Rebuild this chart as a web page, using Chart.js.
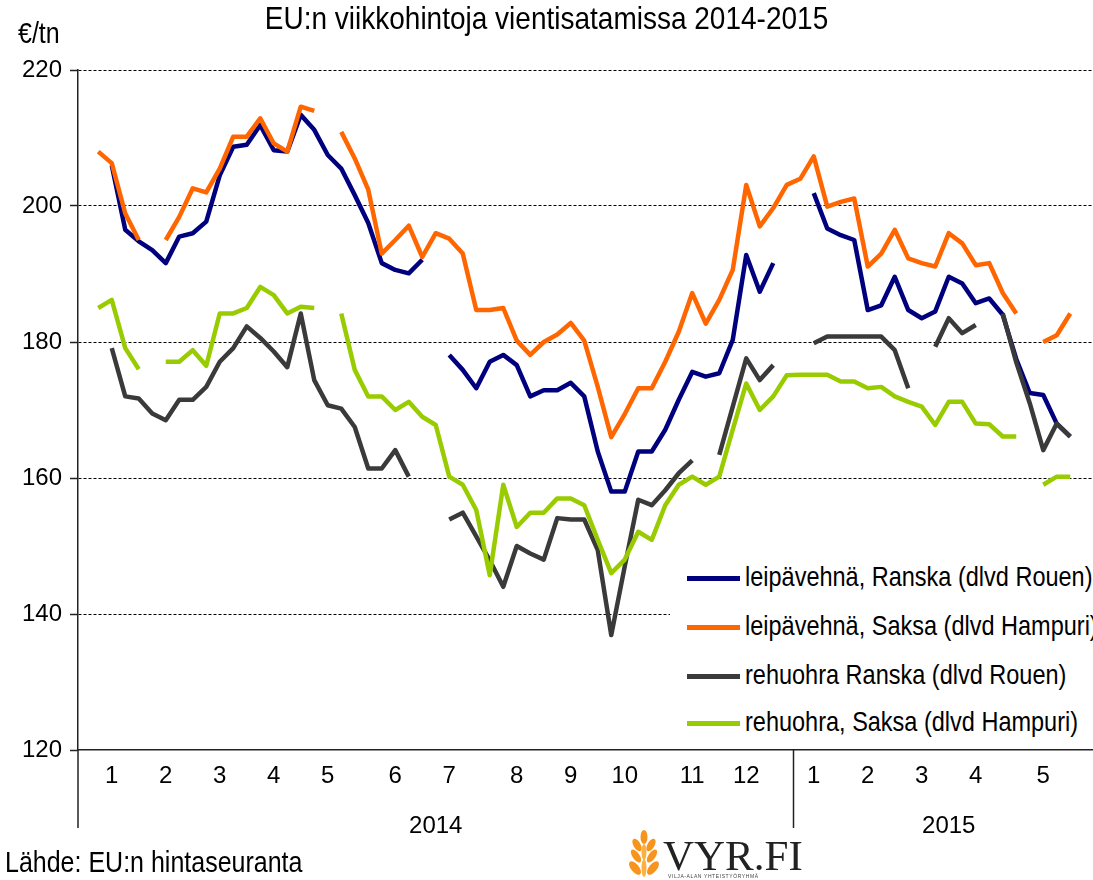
<!DOCTYPE html>
<html>
<head>
<meta charset="utf-8">
<script src="https://cdn.jsdelivr.net/npm/chart.js@4.4.1/dist/chart.umd.min.js"></script>
<style>
html,body{margin:0;padding:0;background:#fff;overflow:hidden;width:1093px;height:880px;}
#wrap{position:absolute;left:0;top:0;width:1120px;height:880px;}
.t{position:absolute;font-family:"Liberation Sans",Arial,sans-serif;color:#000;white-space:nowrap;line-height:1;transform:scaleY(1.15);transform-origin:left center;}
#legend{position:absolute;left:670px;top:550px;width:430px;height:196px;background:#fff;}
.row{position:absolute;left:0;height:40px;}
.sw{position:absolute;left:17px;width:53px;height:5px;top:-2px;}
.lt{position:absolute;left:75px;top:-12px;font-size:23.5px;}
</style>
</head>
<body>
<div id="wrap"><canvas id="c" width="1120" height="880"></canvas></div>
<div class="t" id="title" style="left:0;width:1093px;text-align:center;top:5px;font-size:28px;transform-origin:center center;">EU:n viikkohintoja vientisatamissa 2014-2015</div>
<div class="t" style="left:18px;top:21px;font-size:25px;">€/tn</div>
<div id="legend"></div>
<div class="t" style="left:5px;top:850px;font-size:25px;">Lähde: EU:n hintaseuranta</div>
<div style="position:absolute;left:622px;top:830px;width:200px;height:50px;">
  <svg width="44" height="50" viewBox="0 0 44 50" style="position:absolute;left:0;top:0">
    <g fill="#F7941D">
      <ellipse cx="22" cy="7" rx="3.5" ry="7"/>
      <ellipse cx="15" cy="15" rx="3.5" ry="7" transform="rotate(-30 15 15)"/>
      <ellipse cx="29" cy="15" rx="3.5" ry="7" transform="rotate(30 29 15)"/>
      <ellipse cx="14" cy="26" rx="3.5" ry="7.5" transform="rotate(-35 14 26)"/>
      <ellipse cx="30" cy="26" rx="3.5" ry="7.5" transform="rotate(35 30 26)"/>
      <ellipse cx="13" cy="38" rx="4" ry="8" transform="rotate(-40 13 38)"/>
      <ellipse cx="31" cy="38" rx="4" ry="8" transform="rotate(40 31 38)"/>
    </g>
    <g fill="#FBB040"><ellipse cx="22" cy="22" rx="2.5" ry="8"/><ellipse cx="22" cy="38" rx="2.5" ry="9"/></g>
  </svg>
  <div style="position:absolute;left:41px;top:4px;font-family:'Liberation Serif','Times New Roman',serif;font-size:43px;line-height:1;color:#222;">VYR.FI</div>
  <div style="position:absolute;left:46px;top:44px;font-family:'Liberation Sans',Arial,sans-serif;font-size:5px;line-height:1;color:#444;letter-spacing:0.6px;">VILJA-ALAN YHTEISTYÖRYHMÄ</div>
</div>
<script>
// Month tick labels (one per weekly category), 2014: 53 weeks, 2015: 23 weeks
const monthLabels = ['','','1','','','','2','','','','3','','','','4','','','','5','','','','','6','','','','7','','','','','8','','','','9','','','','10','','','','','11','','','','12','','','','','1','','','','2','','','','3','','','','4','','','','','5','','','',''];
const yearLabels = ['','','','','','','','','','','','','','','','','','','','','','','','','','','2014','','','','','','','','','','','','','','','','','','','','','','','','','','','','','','','','','','','','','','2015','','','','','','','','','','',''];
const yearBoundary = 53; // first category of 2015

const leipaRanska = [null,null,206.0,196.5,194.8,193.5,191.6,195.5,196.0,197.7,204.5,208.7,209.0,211.9,208.2,208.0,213.4,211.2,207.5,205.5,201.6,197.5,191.6,190.6,190.1,192.1,null,178.1,175.9,173.2,177.1,178.1,176.6,172.0,172.9,172.9,174.0,172.0,163.9,158.0,158.0,163.9,163.9,167.1,171.5,175.6,174.9,175.4,180.3,192.8,187.4,191.6,null,null,201.9,196.7,195.7,195.0,184.7,185.4,189.6,184.7,183.5,184.5,189.6,188.6,185.7,186.4,184.0,177.5,172.5,172.2,168.0,166.1,null,null];
const leipaSaksa = [null,208.0,206.3,198.9,195.0,null,195.0,198.4,202.6,202.0,205.5,210.2,210.2,212.9,209.2,208.0,214.6,214.0,null,210.9,207.0,202.4,193.0,195.0,197.1,192.5,196.0,195.2,193.0,184.7,184.7,185.0,180.2,178.1,180.0,181.1,182.8,180.2,173.4,166.0,169.4,173.2,173.2,177.1,181.5,187.2,182.7,186.2,190.6,203.1,197.0,199.7,203.1,204.0,207.3,199.9,200.6,201.1,191.1,193.0,196.5,192.3,191.6,191.1,196.0,194.5,191.3,191.6,187.2,184.2,null,180.0,181.0,184.2,null,null];
const rehuRanska = [null,null,179.1,172.0,171.7,169.5,168.5,171.5,171.5,173.4,177.1,179.1,182.3,180.6,178.6,176.3,184.2,174.4,170.7,170.2,167.5,161.4,161.4,164.1,160.2,null,null,153.9,154.9,151.4,147.9,144.0,150.0,148.9,148.0,154.1,153.9,153.9,149.4,136.9,147.0,156.8,156.0,158.2,160.7,162.6,null,163.4,170.5,177.6,174.4,176.6,null,null,179.8,180.8,180.8,180.8,180.8,180.8,178.8,173.2,null,179.3,183.5,181.3,182.5,null,184.2,177.0,171.0,164.1,168.0,166.1,null,null];
const rehuSaksa = [null,185.0,186.2,179.1,176.0,null,177.1,177.1,178.8,176.5,184.2,184.2,185.0,188.1,186.9,184.2,185.2,185.0,null,184.2,175.9,172.0,172.0,170.0,171.2,169.0,167.8,160.2,159.0,155.3,145.7,159.0,152.8,154.9,154.9,157.0,157.0,156.0,150.9,146.0,148.0,152.1,150.9,156.0,159.0,160.2,159.0,160.2,167.1,173.9,170.0,172.0,175.1,175.2,175.2,175.2,174.2,174.2,173.2,173.4,172.0,171.2,170.5,167.8,171.2,171.2,168.0,167.9,166.1,166.1,null,159.0,160.2,160.2,null,null];

const seriesNames = ['leipävehnä, Ranska (dlvd Rouen)','leipävehnä, Saksa (dlvd Hampuri)','rehuohra Ranska (dlvd Rouen)','rehuohra, Saksa (dlvd Hampuri)'];
const seriesColors = ['#00007F','#FF6600','#3A3A3A','#99CC00'];
const yTicks = [120,140,160,180,200,220];

const FONT = '"Liberation Sans",Arial,sans-serif';
Chart.defaults.color = '#000';
Chart.defaults.font.family = FONT;

const separators = {
  id: 'separators',
  afterDraw(chart) {
    const x = chart.scales.x, a = chart.chartArea, ctx = chart.ctx;
    const xb = (x.getPixelForValue(yearBoundary - 1) + x.getPixelForValue(yearBoundary)) / 2;
    ctx.save();
    ctx.strokeStyle = '#222';
    ctx.lineWidth = 1.5;
    [a.left, xb].forEach(px => {
      ctx.beginPath();
      ctx.moveTo(px, a.bottom);
      ctx.lineTo(px, a.bottom + 78);
      ctx.stroke();
    });
    ctx.restore();
  }
};

const datasets = [leipaRanska, leipaSaksa, rehuRanska, rehuSaksa].map((d, i) => ({
  label: seriesNames[i],
  data: d,
  borderColor: seriesColors[i],
  backgroundColor: seriesColors[i],
  borderWidth: 4.5,
  pointRadius: 0,
  pointHoverRadius: 0,
  tension: 0,
  spanGaps: false,
  borderJoinStyle: 'round',
  borderCapStyle: 'butt',
  order: 4 - i,
  xAxisID: 'x',
  yAxisID: 'y'
}));

const chart = new Chart(document.getElementById('c'), {
  type: 'line',
  data: { labels: monthLabels, datasets },
  options: {
    responsive: false,
    animation: false,
    events: [],
    layout: { padding: { top: 70, left: 0, right: 16, bottom: 0 } },
    plugins: { legend: { display: false }, tooltip: { enabled: false }, title: { display: false } },
    scales: {
      x: {
        type: 'category',
        offset: true,
        position: 'bottom',
        weight: 0,
        grid: { display: false, drawTicks: false, drawOnChartArea: false },
        border: { display: true, color: '#222', width: 1.5 },
        ticks: { autoSkip: false, maxRotation: 0, minRotation: 0, padding: 12, font: { size: 24 }, color: '#000' },
        afterFit(s) { s.height = 50; }
      },
      year: {
        type: 'category',
        labels: yearLabels,
        offset: true,
        position: 'bottom',
        weight: 1,
        grid: { display: false, drawTicks: false },
        border: { display: false },
        ticks: { autoSkip: false, maxRotation: 0, minRotation: 0, padding: 12, font: { size: 24 }, color: '#000' },
        afterFit(s) { s.height = 80; }
      },
      y: {
        type: 'linear',
        min: yTicks[0],
        max: yTicks[yTicks.length - 1],
        afterBuildTicks(s) { s.ticks = yTicks.map(v => ({ value: v })); },
        grid: {
          color: ctx => (ctx.tick && ctx.tick.value === yTicks[0]) ? 'rgba(0,0,0,0)' : '#000',
          lineWidth: 1,
          drawTicks: true,
          tickLength: 8,
          tickColor: '#222',
          tickWidth: 1.5,
          tickBorderDash: []
        },
        border: { display: true, color: '#222', width: 1.5, dash: [3, 2] },
        ticks: { padding: 8, font: { size: 24 }, color: '#000' },
        afterFit(s) { s.width = 78; }
      }
    }
  },
  plugins: [separators]
});

// Legend built from the chart's datasets
const leg = document.getElementById('legend');
const rowTops = [28, 77, 126, 173];
chart.data.datasets.forEach((ds, i) => {
  const r = document.createElement('div');
  r.className = 'row';
  r.style.top = rowTops[i] + 'px';
  const sw = document.createElement('div');
  sw.className = 'sw';
  sw.style.background = ds.borderColor;
  const tx = document.createElement('div');
  tx.className = 't lt';
  tx.textContent = ds.label;
  r.appendChild(sw); r.appendChild(tx);
  leg.appendChild(r);
});
</script>
</body>
</html>
